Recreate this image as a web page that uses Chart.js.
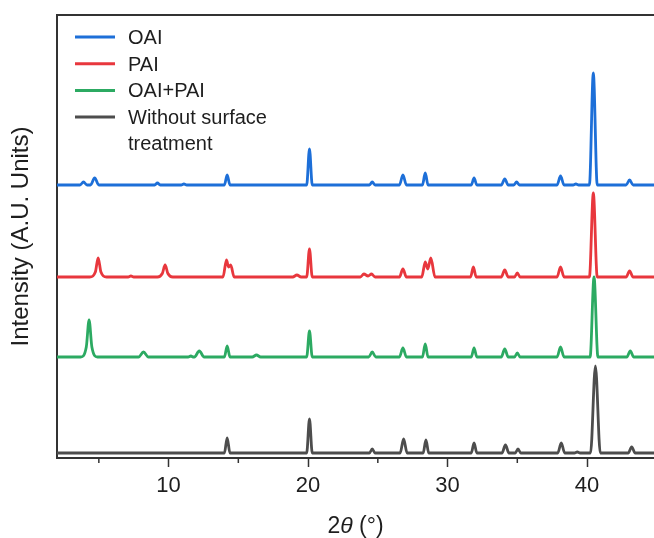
<!DOCTYPE html>
<html>
<head>
<meta charset="utf-8">
<script src="https://cdn.jsdelivr.net/npm/chart.js@4.4.0/dist/chart.umd.min.js"></script>
<style>
  html, body { margin: 0; padding: 0; background: #fff; }
  #wrap { width: 654px; height: 538px; }
</style>
</head>
<body>
<div id="wrap"><canvas id="xrd" width="654" height="538"></canvas></div>
<script>
// sample names, colours and vertical stacking offsets
const seriesNames = ['OAI', 'PAI', 'OAI+PAI', 'Without surface\ntreatment'];
const seriesColors = ['#1d6fd8', '#e8373d', '#2caa62', '#4d4d4d'];
const offsets = [268, 176, 96, 0];

// 2theta (deg) / intensity pairs
const oaiX = [2, 3.65, 3.9, 4.15, 4.4, 4.7, 5.0, 9.0, 9.2, 9.4, 10.9, 11.1, 11.3, 14.0, 14.2, 14.4,
  19.9, 20.1, 20.3, 24.4, 24.6, 24.8, 26.55, 26.8, 27.05, 28.2, 28.4, 28.6, 31.7, 31.9, 32.1,
  33.85, 34.1, 34.35, 34.75, 34.95, 35.15, 37.85, 38.1, 38.35, 39.0, 39.2, 39.4, 40.17, 40.45, 40.73,
  42.8, 43.05, 43.3, 44.8];
const oaiY = [0, 0, 3, 0, 0, 7, 0, 0, 2, 0, 0, 1, 0, 0, 10, 0,
  0, 36, 0, 0, 3, 0, 0, 10, 0, 0, 12, 0, 0, 7, 0,
  0, 6, 0, 0, 3, 0, 0, 9, 0, 0, 1, 0, 0, 112, 0,
  0, 5, 0, 0];

const paiX = [2, 4.35, 4.75, 4.95, 5.15, 5.55, 7.1, 7.3, 7.5, 9.2, 9.55, 9.75, 9.95, 10.3,
  13.9, 14.15, 14.3, 14.45, 14.7, 18.9, 19.2, 19.5, 19.9, 20.1, 20.3, 23.75, 24.0, 24.3, 24.55, 24.8,
  26.55, 26.8, 27.05, 28.15, 28.4, 28.58, 28.8, 29.1, 31.65, 31.85, 32.05, 33.85, 34.1, 34.35,
  34.8, 35.0, 35.2, 37.85, 38.1, 38.35, 40.17, 40.45, 40.73, 42.8, 43.05, 43.3, 44.8];
const paiY = [0, 0, 5, 19, 5, 0, 0, 1, 0, 0, 3.5, 12, 3.5, 0,
  0, 17, 10, 12, 0, 0, 2, 0, 0, 28, 0, 0, 3, 1, 3, 0,
  0, 8, 0, 0, 15, 8, 19, 0, 0, 10, 0, 0, 7, 0,
  0, 4, 0, 0, 10, 0, 0, 84, 0, 0, 6, 0, 0];

const mixX = [2, 3.7, 4.1, 4.3, 4.5, 4.9, 7.85, 8.2, 8.55, 11.4, 11.6, 11.75, 11.85, 12.2, 12.55,
  14.0, 14.2, 14.4, 16.0, 16.3, 16.6, 19.9, 20.1, 20.3, 24.35, 24.6, 24.85, 26.55, 26.8, 27.05,
  28.2, 28.4, 28.6, 31.7, 31.9, 32.1, 33.85, 34.1, 34.35, 34.8, 35.0, 35.2, 37.85, 38.1, 38.35,
  40.22, 40.5, 40.78, 42.85, 43.1, 43.35, 44.8];
const mixY = [0, 0, 10, 37, 10, 0, 0, 5, 0, 0, 1, 0, 0, 6, 0,
  0, 11, 0, 0, 2, 0, 0, 26, 0, 0, 5, 0, 0, 9, 0,
  0, 13, 0, 0, 9, 0, 0, 8, 0, 0, 4, 0, 0, 10, 0,
  0, 80, 0, 0, 6, 0, 0];

const bareX = [2, 14.0, 14.2, 14.4, 19.9, 20.1, 20.3, 24.4, 24.6, 24.8, 26.6, 26.85, 27.1,
  28.25, 28.45, 28.65, 31.7, 31.9, 32.1, 33.9, 34.15, 34.4, 34.85, 35.05, 35.25, 37.9, 38.15, 38.4,
  39.1, 39.3, 39.5, 40.25, 40.6, 40.95, 42.95, 43.2, 43.45, 44.8];
const bareY = [0, 0, 15, 0, 0, 34, 0, 0, 4, 0, 0, 14, 0,
  0, 13, 0, 0, 10, 0, 0, 8, 0, 0, 4, 0, 0, 10, 0,
  0, 1, 0, 0, 87, 0, 0, 6, 0, 0];

const xTicks = [10, 20, 30, 40];
const xMinorTicks = [5, 15, 25, 35];

const FONT = "'Liberation Sans', Arial, sans-serif";
const INK = '#1e1e1e';

const xs = [oaiX, paiX, mixX, bareX];
const ys = [oaiY, paiY, mixY, bareY];

const datasets = seriesNames.map((name, i) => ({
    label: name,
    data: xs[i].map((x, j) => ({ x: x, y: ys[i][j] + offsets[i] })),
    borderColor: seriesColors[i],
    borderWidth: 2.8,
    pointRadius: 0,
    cubicInterpolationMode: 'monotone',
    fill: false
}));

// frame top, minor ticks, x title with italic theta, legend
const extras = {
    id: 'extras',
    afterDraw(chart) {
        const { ctx, chartArea: a, scales: { x } } = chart;
        ctx.save();
        ctx.strokeStyle = '#333';
        ctx.lineWidth = 2;
        ctx.beginPath();
        ctx.moveTo(a.left - 1, a.top);
        ctx.lineTo(a.right, a.top);
        ctx.stroke();

        ctx.lineWidth = 1.5;
        xMinorTicks.forEach(v => {
            const px = x.getPixelForValue(v);
            ctx.beginPath();
            ctx.moveTo(px, a.bottom);
            ctx.lineTo(px, a.bottom + 5);
            ctx.stroke();
        });

        // x axis title: 2θ (°)
        ctx.fillStyle = INK;
        ctx.textBaseline = 'middle';
        const parts = [['2', ''], ['θ', 'italic '], [' (°)', '']];
        let total = 0;
        parts.forEach(p => { ctx.font = p[1] + '23px ' + FONT; total += ctx.measureText(p[0]).width; });
        let tx = (a.left + a.right) / 2 - total / 2;
        parts.forEach(p => {
            ctx.font = p[1] + '23px ' + FONT;
            ctx.textAlign = 'left';
            ctx.fillText(p[0], tx, 527);
            tx += ctx.measureText(p[0]).width;
        });

        // legend
        ctx.font = '20px ' + FONT;
        let ly = 37;
        seriesNames.forEach((name, i) => {
            ctx.strokeStyle = seriesColors[i];
            ctx.lineWidth = 3;
            ctx.beginPath();
            ctx.moveTo(75, ly);
            ctx.lineTo(115, ly);
            ctx.stroke();
            name.split('\n').forEach((line, k) => {
                ctx.fillText(line, 128, ly + 1.5 + k * 26);
            });
            ly += 26.7;
        });
        ctx.restore();
    }
};

new Chart(document.getElementById('xrd'), {
    type: 'line',
    data: { datasets: datasets },
    plugins: [extras],
    options: {
        responsive: false,
        animation: false,
        devicePixelRatio: 1,
        layout: { padding: { top: 15, right: 0, left: 0, bottom: 0 } },
        plugins: { legend: { display: false }, tooltip: { enabled: false } },
        scales: {
            x: {
                type: 'linear',
                min: 2,
                max: 44.8,
                afterBuildTicks: scale => { scale.ticks = xTicks.map(v => ({ value: v })); },
                afterFit: scale => { scale.height = 80; },
                ticks: { font: { family: FONT, size: 22 }, color: INK, padding: 6, maxRotation: 0 },
                grid: { drawOnChartArea: false, drawTicks: true, tickLength: 9, tickColor: '#333', tickWidth: 1.5 },
                border: { display: true, color: '#333', width: 2 }
            },
            y: {
                min: -5,
                max: 438,
                afterFit: scale => { scale.width = 57; },
                ticks: { display: false },
                grid: { drawOnChartArea: false, drawTicks: false },
                border: { display: true, color: '#333', width: 2 },
                title: {
                    display: true,
                    text: 'Intensity (A.U. Units)',
                    color: INK,
                    font: { family: FONT, size: 24 },
                    padding: { top: 7, bottom: 0 }
                }
            }
        }
    }
});
</script>
</body>
</html>
